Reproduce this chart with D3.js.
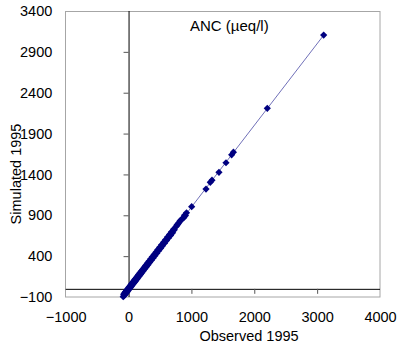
<!DOCTYPE html>
<html>
<head>
<meta charset="utf-8">
<script src="https://cdn.jsdelivr.net/npm/d3@7"></script>
<style>
  html, body { margin: 0; padding: 0; background: #fff; }
  svg { display: block; font-family: "Liberation Sans", Arial, sans-serif; }
</style>
</head>
<body>
<svg id="chart" width="397" height="346"></svg>
<script>
const chartTitle = "ANC (µeq/l)";
const xTitle = "Observed 1995";
const yTitle = "Simulated 1995";
const xTicks = [-1000, 0, 1000, 2000, 3000, 4000];
const yTicks = [-100, 400, 900, 1400, 1900, 2400, 2900, 3400];
const observed = [
  -85,-78,-70,-62,-55,-48,-40,-33,-25,-18,-10,-3,5,12,20,28,35,43,50,58,
  66,74,82,90,98,106,115,124,132,141,150,160,170,180,190,200,212,224,236,248,
  260,272,285,298,310,323,336,350,364,378,392,406,420,435,450,465,480,495,510,525,
  540,556,572,588,604,620,636,652,668,684,700,716,728,758,770,782,800,818,835,846,
  878,890,905,922,1004,1232,1300,1327,1438,1550,1640,1668,2207,3104
];
const simulated = [
  -96,-66,-82,-50,-68,-35,-54,-20,-38,-5,-24,10,-8,25,6,41,22,57,37,72,
  52,88,68,104,84,120,100,138,118,155,136,174,156,194,176,214,198,238,222,262,
  246,286,271,312,296,337,322,364,350,392,378,420,406,449,436,479,466,509,496,539,
  526,570,558,602,590,634,622,666,654,698,686,730,722,764,780,790,808,830,842,852,
  870,900,897,930,1005,1221,1303,1330,1426,1543,1640,1672,2209,3106
];
const lineObs = [-90, 3104];

const svg = d3.select("#chart");
const x = d3.scaleLinear().domain([-1000, 4000]).range([65.7, 380]);
const y = d3.scaleLinear().domain([-100, 3400]).range([297, 11]);

// frame
svg.append("rect")
  .attr("x", 65.5).attr("y", 11.5)
  .attr("width", 314.5).attr("height", 285.5)
  .attr("fill", "none").attr("stroke", "#a6a6a6").attr("stroke-width", 1);

// tick labels (low position)
const yLab = svg.append("g").attr("transform", "translate(65.7,0)")
  .call(d3.axisLeft(y).tickValues(yTicks).tickSize(0).tickPadding(13.4).tickFormat(d3.format("d")));
const xLab = svg.append("g").attr("transform", "translate(0,297)")
  .call(d3.axisBottom(x).tickValues(xTicks).tickSize(0).tickPadding(14.7).tickFormat(d3.format("d")));
[yLab, xLab].forEach(g => {
  g.select(".domain").remove();
  g.selectAll("text").attr("font-size", 14.5).attr("fill", "#000")
    .attr("font-family", "'Liberation Sans', Arial, sans-serif");
});

// axis lines through zero with outside ticks
const yAx = svg.append("g").attr("transform", `translate(${x(0)},0)`)
  .call(d3.axisLeft(y).tickValues(yTicks.slice(1, -1)).tickSize(5).tickFormat(""));
const xAx = svg.append("g").attr("transform", `translate(0,${y(0)})`)
  .call(d3.axisBottom(x).tickValues(xTicks.slice(2, -1)).tickSize(5).tickFormat(""));
[yAx, xAx].forEach(g => {
  g.select(".domain").attr("stroke", "#000").attr("stroke-width", 1);
  g.selectAll(".tick line").attr("stroke", "#555");
});
yAx.select(".domain").attr("d", `M0.5,${y(-100)}V${y(3400)}`);
xAx.select(".domain").attr("d", `M${x(-1000)},0.5H${x(4000)}`);

// 1:1 line
svg.append("path")
  .datum(lineObs)
  .attr("d", d3.line().x(d => x(d)).y(d => y(d)))
  .attr("fill", "none").attr("stroke", "#6060b0").attr("stroke-width", 0.9);

// diamonds
const diamond = {
  draw(ctx, size) {
    const r = Math.sqrt(size / 2);
    ctx.moveTo(0, -r); ctx.lineTo(r, 0); ctx.lineTo(0, r); ctx.lineTo(-r, 0); ctx.closePath();
  }
};
svg.append("g").selectAll("path")
  .data(observed.map((o, i) => [o, simulated[i]]))
  .join("path")
  .attr("transform", d => `translate(${x(d[0])},${y(d[1])})`)
  .attr("d", d3.symbol().type(diamond).size(26))
  .attr("fill", "#000080");

// titles
svg.append("text").attr("x", 190).attr("y", 31).attr("font-size", 15).text(chartTitle);
svg.append("text").attr("x", 249).attr("y", 341).attr("text-anchor", "middle")
  .attr("font-size", 14.5).text(xTitle);
svg.append("text").attr("transform", "translate(21,174) rotate(-90)")
  .attr("text-anchor", "middle").attr("font-size", 14.5).text(yTitle);
</script>
</body>
</html>
